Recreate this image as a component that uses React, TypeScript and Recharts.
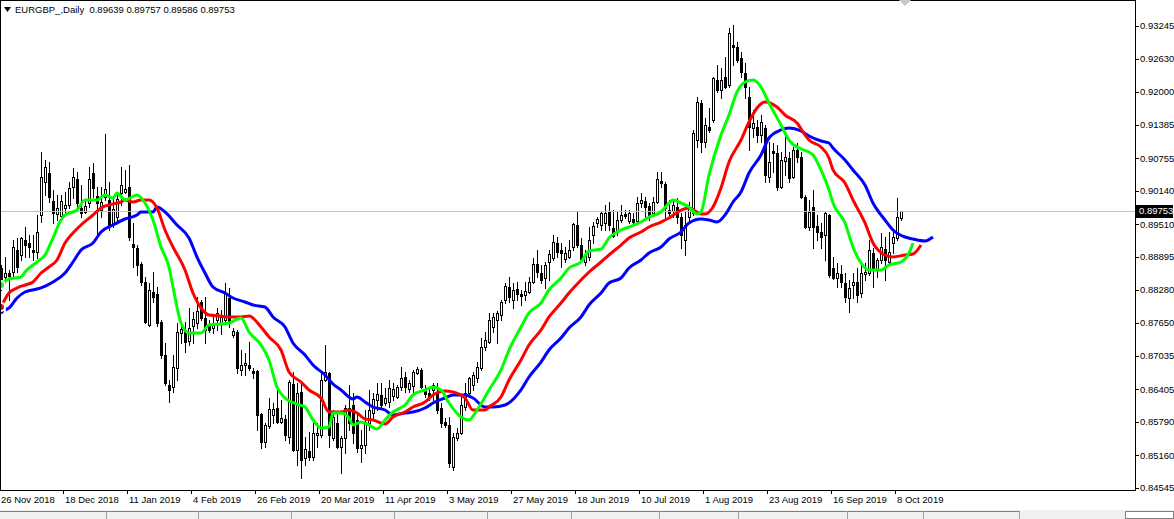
import { Bar, ComposedChart, Line, ReferenceLine, XAxis, YAxis } from 'recharts';

const symbolTitle = 'EURGBP_,Daily';
const lastOpen = 0.89639;
const lastHigh = 0.89757;
const lastLow = 0.89586;
const lastClose = 0.89753;

const dateBars = [0, 16, 32, 48, 64, 80, 96, 112, 128, 144, 160, 176, 192, 208, 224];
const dateLabels = [
  '26 Nov 2018', '18 Dec 2018', '11 Jan 2019', '4 Feb 2019', '26 Feb 2019', '20 Mar 2019', '11 Apr 2019',
  '3 May 2019', '27 May 2019', '18 Jun 2019', '10 Jul 2019', '1 Aug 2019', '23 Aug 2019', '16 Sep 2019', '8 Oct 2019',
];
const priceTicks = [
  0.93245, 0.9263, 0.92, 0.91385, 0.90755, 0.9014, 0.8951, 0.88895, 0.8828, 0.8765, 0.87035, 0.86405, 0.8579, 0.8516, 0.84545,
];

const opens = [
  0.88688, 0.88519, 0.88594, 0.88613, 0.89027, 0.88933, 0.89215, 0.89159, 0.89027, 0.88989,
  0.89686, 0.90308, 0.90477, 0.8995, 0.89705, 0.89667, 0.89818, 0.89874, 0.90213, 0.90364,
  0.89818, 0.89743, 0.89912, 0.90477, 0.90044, 0.8978, 0.90025, 0.89969, 0.89536, 0.89649,
  0.901, 0.90119, 0.90213, 0.8914, 0.89065, 0.88764, 0.88425, 0.87615, 0.88236, 0.88199,
  0.87671, 0.8705, 0.86485, 0.86447, 0.86805, 0.87464, 0.87521, 0.87314, 0.87596, 0.87653,
  0.88048, 0.87747, 0.87615, 0.87558, 0.87709, 0.87653, 0.87709, 0.88123, 0.87427, 0.87483,
  0.86768, 0.86862, 0.86862, 0.86749, 0.86749, 0.85939, 0.85412, 0.85713, 0.8592, 0.86052,
  0.85788, 0.85845, 0.85506, 0.86504, 0.85261, 0.86353, 0.85111, 0.85242, 0.85129, 0.85544,
  0.85544, 0.86579, 0.86711, 0.85487, 0.8577, 0.85318, 0.85487, 0.86052, 0.86108, 0.85826,
  0.85299, 0.85355, 0.8577, 0.85958, 0.86203, 0.86297, 0.86146, 0.86165, 0.86278, 0.86259,
  0.86447, 0.86636, 0.8641, 0.86466, 0.86711, 0.86768, 0.86391, 0.86334, 0.86391, 0.86353,
  0.86052, 0.85788, 0.85732, 0.84941, 0.85487, 0.85581, 0.86071, 0.86334, 0.86485, 0.86617,
  0.86805, 0.87201, 0.87295, 0.87577, 0.87709, 0.87803, 0.88086, 0.8833, 0.88086, 0.88293,
  0.88199, 0.8818, 0.88236, 0.88425, 0.88764, 0.88594, 0.885, 0.88801, 0.88877, 0.89159,
  0.89027, 0.88858, 0.88895, 0.89084, 0.89498, 0.89121, 0.88801, 0.88895, 0.8931, 0.89536,
  0.89498, 0.89536, 0.89743, 0.89441, 0.89366, 0.89592, 0.89705, 0.89573, 0.89611, 0.89573,
  0.89912, 0.8995, 0.89856, 0.89724, 0.89931, 0.90326, 0.9027, 0.8978, 0.89762, 0.89837,
  0.89649, 0.89215, 0.89649, 0.89724, 0.91098, 0.91795, 0.91061, 0.91343, 0.91475, 0.92228,
  0.9204, 0.92285, 0.92134, 0.92887, 0.9285, 0.92642, 0.9236, 0.91908, 0.91324, 0.91343,
  0.91193, 0.91324, 0.90402, 0.90891, 0.90854, 0.90213, 0.90703, 0.9076, 0.90402, 0.9091,
  0.90778, 0.90025, 0.8946, 0.89837, 0.89479, 0.89366, 0.8931, 0.89686, 0.88688, 0.885,
  0.88575, 0.88406, 0.88123, 0.88368, 0.88425, 0.88217, 0.88575, 0.88594, 0.88971, 0.88651,
  0.88839, 0.89046, 0.88801, 0.89159, 0.89253, 0.89639,
];
const highs = [
  0.88745, 0.88895, 0.88651, 0.89215, 0.89253, 0.89272, 0.8946, 0.8931, 0.8931, 0.89686,
  0.90872, 0.90722, 0.90684, 0.90157, 0.90063, 0.90063, 0.90119, 0.90308, 0.90571, 0.90496,
  0.90251, 0.89969, 0.9059, 0.90665, 0.90213, 0.90213, 0.91211, 0.90308, 0.90006, 0.901,
  0.9059, 0.90534, 0.90628, 0.89536, 0.89121, 0.88801, 0.88519, 0.88406, 0.88613, 0.8833,
  0.87709, 0.87276, 0.86579, 0.8705, 0.87653, 0.87653, 0.87671, 0.87935, 0.8786, 0.88142,
  0.88086, 0.88142, 0.87709, 0.87803, 0.87935, 0.87897, 0.88406, 0.88312, 0.87558, 0.87521,
  0.87144, 0.87088, 0.87295, 0.86805, 0.86768, 0.85958, 0.8577, 0.8624, 0.86146, 0.86391,
  0.86203, 0.8592, 0.86579, 0.8673, 0.86523, 0.86523, 0.85506, 0.856, 0.8577, 0.8577,
  0.86711, 0.87238, 0.8673, 0.86014, 0.85977, 0.85525, 0.86108, 0.86485, 0.86334, 0.85958,
  0.85638, 0.86014, 0.86391, 0.86334, 0.86523, 0.86523, 0.86429, 0.86579, 0.86523, 0.86485,
  0.86824, 0.8673, 0.86579, 0.86768, 0.86824, 0.86805, 0.86485, 0.86447, 0.86523, 0.86523,
  0.86146, 0.85864, 0.85883, 0.85581, 0.85675, 0.86297, 0.86523, 0.86636, 0.8673, 0.86918,
  0.8737, 0.87483, 0.87841, 0.87841, 0.87879, 0.88086, 0.88406, 0.88519, 0.88406, 0.88425,
  0.88274, 0.88425, 0.88519, 0.88877, 0.89027, 0.88745, 0.88801, 0.89027, 0.8931, 0.89272,
  0.89159, 0.89084, 0.89215, 0.89536, 0.89743, 0.89253, 0.89027, 0.8946, 0.89554, 0.89649,
  0.89743, 0.89874, 0.89931, 0.8978, 0.89743, 0.89874, 0.8978, 0.8978, 0.89724, 0.90025,
  0.901, 0.90025, 0.89912, 0.90025, 0.90496, 0.90496, 0.90308, 0.89969, 0.89969, 0.90006,
  0.89724, 0.89743, 0.89931, 0.91287, 0.91908, 0.91852, 0.91513, 0.91701, 0.92285, 0.92511,
  0.92454, 0.92661, 0.93207, 0.93264, 0.92944, 0.92755, 0.92548, 0.92096, 0.91663, 0.91475,
  0.91569, 0.91381, 0.91061, 0.91042, 0.91004, 0.90872, 0.91193, 0.90872, 0.90967, 0.91042,
  0.90872, 0.90063, 0.89969, 0.90157, 0.89686, 0.89536, 0.89743, 0.89705, 0.88895, 0.88782,
  0.88745, 0.88594, 0.88462, 0.88594, 0.88688, 0.88782, 0.88782, 0.89215, 0.89065, 0.88877,
  0.89347, 0.89272, 0.89366, 0.89404, 0.90006, 0.89757,
];
const lows = [
  0.88274, 0.88406, 0.88086, 0.88519, 0.88613, 0.88839, 0.88895, 0.88895, 0.88839, 0.88877,
  0.89554, 0.90063, 0.89931, 0.89536, 0.89592, 0.89592, 0.89724, 0.89818, 0.90006, 0.89837,
  0.89649, 0.89724, 0.89837, 0.90025, 0.89253, 0.89649, 0.89969, 0.89404, 0.8946, 0.89592,
  0.89874, 0.901, 0.89215, 0.88707, 0.88556, 0.88368, 0.87653, 0.87596, 0.88048, 0.87596,
  0.86994, 0.86485, 0.86165, 0.86353, 0.86579, 0.87276, 0.87106, 0.87238, 0.87276, 0.87558,
  0.87709, 0.87276, 0.87483, 0.87464, 0.87521, 0.87445, 0.87653, 0.87577, 0.87389, 0.86711,
  0.86673, 0.86673, 0.86768, 0.86617, 0.85638, 0.85299, 0.85318, 0.85675, 0.8577, 0.8577,
  0.8577, 0.85449, 0.85393, 0.85242, 0.84979, 0.84734, 0.84979, 0.85073, 0.85073, 0.85318,
  0.85506, 0.8656, 0.85318, 0.85449, 0.85299, 0.84828, 0.85205, 0.85638, 0.85393, 0.85223,
  0.85035, 0.85205, 0.85638, 0.85864, 0.86014, 0.86052, 0.86108, 0.86071, 0.86203, 0.8624,
  0.86391, 0.86353, 0.86353, 0.86353, 0.86692, 0.86429, 0.86259, 0.86203, 0.86203, 0.85958,
  0.85694, 0.85694, 0.84941, 0.84885, 0.85449, 0.85562, 0.86014, 0.86259, 0.86391, 0.86542,
  0.86768, 0.87144, 0.87276, 0.87483, 0.87276, 0.87709, 0.88029, 0.88048, 0.87935, 0.88086,
  0.87991, 0.88086, 0.88217, 0.88406, 0.88519, 0.88406, 0.88312, 0.88462, 0.88839, 0.88895,
  0.88707, 0.88801, 0.88877, 0.89027, 0.89084, 0.88801, 0.88745, 0.88839, 0.89159, 0.8946,
  0.89404, 0.89404, 0.89404, 0.89272, 0.8931, 0.89554, 0.8963, 0.89536, 0.89536, 0.89554,
  0.89837, 0.89592, 0.89592, 0.89686, 0.89912, 0.90213, 0.89649, 0.89649, 0.89649, 0.89536,
  0.89065, 0.88933, 0.89554, 0.89686, 0.90967, 0.90872, 0.90967, 0.91249, 0.91437, 0.92002,
  0.91889, 0.92078, 0.92096, 0.92511, 0.92567, 0.92285, 0.91889, 0.9091, 0.91155, 0.91061,
  0.91061, 0.90308, 0.90308, 0.90496, 0.90157, 0.90195, 0.90439, 0.90308, 0.90383, 0.90684,
  0.90006, 0.89441, 0.89404, 0.89065, 0.89215, 0.89065, 0.88839, 0.88519, 0.88481, 0.8833,
  0.8833, 0.88048, 0.8786, 0.88123, 0.88048, 0.88142, 0.88462, 0.88556, 0.8833, 0.88519,
  0.88782, 0.88462, 0.88782, 0.88971, 0.89215, 0.89586,
];
const closes = [
  0.8833, 0.88594, 0.88538, 0.89084, 0.88707, 0.89253, 0.89121, 0.89084, 0.88989, 0.89366,
  0.90402, 0.9059, 0.90025, 0.89724, 0.89818, 0.8995, 0.89874, 0.90195, 0.90402, 0.89912,
  0.89724, 0.89856, 0.90364, 0.90195, 0.89912, 0.89931, 0.90176, 0.89498, 0.89799, 0.89987,
  0.90251, 0.90176, 0.89272, 0.89084, 0.88745, 0.88425, 0.87671, 0.88274, 0.88142, 0.87653,
  0.8705, 0.86523, 0.86391, 0.86824, 0.87483, 0.8754, 0.87295, 0.87558, 0.87728, 0.87879,
  0.87747, 0.87521, 0.87521, 0.87615, 0.87841, 0.87766, 0.88217, 0.87671, 0.87502, 0.86805,
  0.86862, 0.86899, 0.86805, 0.86711, 0.8592, 0.85412, 0.85732, 0.86033, 0.86033, 0.85788,
  0.85864, 0.85544, 0.86542, 0.85261, 0.86334, 0.85073, 0.8528, 0.85129, 0.85581, 0.85581,
  0.86579, 0.8673, 0.85544, 0.85883, 0.85318, 0.85487, 0.86052, 0.8577, 0.85581, 0.85299,
  0.85355, 0.85788, 0.86014, 0.86221, 0.86316, 0.86108, 0.8624, 0.86429, 0.8641, 0.86447,
  0.86617, 0.86447, 0.86523, 0.8673, 0.86786, 0.86447, 0.86316, 0.86259, 0.86485, 0.86014,
  0.8577, 0.85732, 0.85016, 0.85506, 0.85581, 0.86108, 0.86334, 0.86617, 0.86673, 0.86824,
  0.87201, 0.87332, 0.87709, 0.87766, 0.87841, 0.88048, 0.88349, 0.88142, 0.88274, 0.88199,
  0.88161, 0.88255, 0.88425, 0.88764, 0.88613, 0.88462, 0.88745, 0.88952, 0.89178, 0.88989,
  0.88971, 0.88971, 0.89027, 0.89517, 0.89121, 0.88858, 0.88933, 0.89215, 0.89479, 0.89611,
  0.89724, 0.89724, 0.89498, 0.89291, 0.89592, 0.89686, 0.89667, 0.89724, 0.89554, 0.89912,
  0.89969, 0.89837, 0.89649, 0.89931, 0.90364, 0.90289, 0.89818, 0.89724, 0.89874, 0.89649,
  0.8931, 0.89498, 0.89818, 0.9123, 0.91814, 0.91061, 0.91381, 0.91287, 0.92266, 0.9204,
  0.92228, 0.92096, 0.93113, 0.9285, 0.92605, 0.92379, 0.92096, 0.91343, 0.91419, 0.91193,
  0.91437, 0.90439, 0.90684, 0.90854, 0.90213, 0.90722, 0.90778, 0.90383, 0.9091, 0.90778,
  0.90025, 0.8946, 0.89743, 0.8946, 0.89366, 0.89272, 0.89724, 0.88556, 0.885, 0.88594,
  0.88425, 0.88142, 0.88312, 0.88425, 0.8818, 0.88594, 0.88613, 0.89027, 0.88651, 0.88839,
  0.89084, 0.88839, 0.88989, 0.89272, 0.89649, 0.89753,
];

// Alligator lines (bar index, price)
const jawBars = [0, 2, 4, 6, 10, 13, 16, 18, 20, 23, 25, 28, 31, 34, 35, 38, 39, 41, 44, 47, 49, 51, 53, 56, 58, 61, 63, 66, 68, 71, 73, 76, 78, 81, 83, 85, 88, 89, 91, 93, 96, 98, 101, 103, 106, 108, 111, 113, 116, 118, 121, 123, 126, 130, 132, 135, 137, 140, 142, 145, 147, 150, 152, 155, 157, 160, 162, 165, 167, 170, 172, 175, 177, 179, 181, 183, 185, 187, 190, 192, 195, 197, 200, 202, 205, 207, 208, 211, 213, 216, 218, 221, 223, 226, 228, 231, 233];
const jawValues = [0.87879, 0.87935, 0.88123, 0.88236, 0.88312, 0.88425, 0.88594, 0.88801, 0.89027, 0.89159, 0.89366, 0.89498, 0.89611, 0.89686, 0.89743, 0.89743, 0.89837, 0.89743, 0.89498, 0.89253, 0.88895, 0.88594, 0.8833, 0.88217, 0.88123, 0.88048, 0.87991, 0.87954, 0.87766, 0.87577, 0.87276, 0.8705, 0.86862, 0.86673, 0.86504, 0.86391, 0.86221, 0.86259, 0.86165, 0.86071, 0.86014, 0.8592, 0.85958, 0.85977, 0.86052, 0.86146, 0.8624, 0.86297, 0.86297, 0.8624, 0.86071, 0.86071, 0.86108, 0.86391, 0.86636, 0.86918, 0.87144, 0.8737, 0.87558, 0.87766, 0.87991, 0.88217, 0.88406, 0.885, 0.88688, 0.88839, 0.88971, 0.89084, 0.89234, 0.89366, 0.89536, 0.89611, 0.89592, 0.89554, 0.89686, 0.89931, 0.90119, 0.90477, 0.90816, 0.91136, 0.91287, 0.91324, 0.91268, 0.91174, 0.9108, 0.91042, 0.90948, 0.90722, 0.90534, 0.90251, 0.89912, 0.89592, 0.89404, 0.89272, 0.89234, 0.89197, 0.89272];

const teethBars = [0, 2, 4, 6, 8, 10, 12, 14, 16, 18, 20, 23, 25, 28, 30, 31, 33, 35, 37, 39, 41, 43, 46, 48, 50, 52, 55, 57, 60, 62, 65, 67, 70, 72, 75, 77, 80, 82, 85, 87, 89, 91, 93, 96, 98, 101, 103, 106, 108, 111, 113, 116, 118, 121, 122, 125, 127, 130, 132, 135, 137, 140, 142, 145, 147, 150, 152, 155, 157, 160, 162, 165, 167, 170, 172, 175, 176, 178, 180, 182, 185, 187, 189, 191, 194, 196, 199, 201, 202, 205, 207, 208, 211, 213, 216, 218, 221, 223, 226, 228, 230];
const teethValues = [0.87954, 0.88217, 0.88312, 0.88368, 0.88425, 0.88594, 0.88707, 0.88839, 0.89159, 0.89347, 0.89498, 0.89686, 0.89818, 0.89893, 0.89931, 0.89969, 0.89931, 0.89969, 0.89969, 0.89818, 0.89404, 0.89084, 0.88651, 0.88217, 0.87935, 0.87803, 0.87784, 0.87766, 0.87766, 0.87784, 0.87577, 0.87389, 0.87144, 0.8673, 0.86542, 0.86391, 0.8624, 0.85977, 0.85977, 0.86014, 0.85958, 0.85845, 0.85826, 0.85751, 0.85883, 0.85977, 0.86071, 0.86165, 0.86297, 0.86372, 0.86353, 0.8624, 0.86014, 0.86014, 0.86071, 0.86259, 0.86579, 0.86956, 0.87238, 0.87521, 0.87766, 0.88029, 0.88217, 0.88462, 0.88613, 0.88801, 0.88933, 0.89121, 0.89253, 0.89366, 0.8946, 0.89554, 0.8963, 0.8978, 0.89818, 0.89705, 0.89705, 0.89837, 0.90195, 0.90684, 0.91098, 0.91437, 0.91701, 0.91814, 0.9172, 0.91569, 0.91419, 0.91193, 0.91098, 0.90967, 0.9076, 0.90534, 0.90289, 0.89969, 0.89536, 0.89159, 0.88933, 0.88895, 0.88933, 0.88952, 0.89121];

const lipsBars = [0, 2, 5, 6, 9, 11, 13, 15, 16, 19, 21, 24, 26, 28, 29, 31, 34, 36, 38, 40, 42, 43, 45, 47, 50, 52, 55, 57, 60, 62, 65, 67, 69, 71, 74, 76, 78, 80, 82, 83, 85, 87, 88, 90, 92, 94, 96, 98, 101, 103, 106, 108, 110, 112, 115, 117, 119, 121, 122, 125, 127, 130, 132, 135, 137, 140, 142, 145, 147, 150, 152, 155, 157, 160, 162, 165, 167, 168, 170, 172, 174, 175, 177, 180, 182, 184, 186, 188, 190, 192, 195, 197, 200, 202, 203, 205, 207, 208, 211, 213, 215, 217, 220, 222, 225, 227, 228];
const lipsValues = [0.88368, 0.88481, 0.88519, 0.88613, 0.88801, 0.88933, 0.89253, 0.89592, 0.89686, 0.8978, 0.89969, 0.89969, 0.90063, 0.90006, 0.901, 0.89969, 0.90063, 0.89912, 0.89592, 0.89084, 0.88707, 0.8833, 0.87653, 0.87464, 0.87464, 0.87615, 0.87634, 0.87653, 0.87747, 0.87483, 0.87238, 0.86956, 0.86447, 0.8624, 0.86127, 0.86071, 0.85826, 0.85675, 0.85694, 0.85958, 0.85958, 0.85864, 0.85732, 0.85788, 0.85732, 0.85657, 0.85826, 0.85977, 0.86108, 0.86297, 0.86391, 0.86447, 0.86391, 0.86146, 0.85883, 0.85826, 0.86014, 0.86259, 0.86391, 0.86768, 0.87144, 0.87577, 0.87841, 0.88029, 0.88274, 0.885, 0.88688, 0.88801, 0.89008, 0.89046, 0.89253, 0.89404, 0.8946, 0.89554, 0.89649, 0.89743, 0.89912, 0.89969, 0.89912, 0.89837, 0.89705, 0.89743, 0.90439, 0.91193, 0.91569, 0.92002, 0.92191, 0.92228, 0.92096, 0.91795, 0.91381, 0.91098, 0.90929, 0.90872, 0.90816, 0.90534, 0.90157, 0.89912, 0.89536, 0.89084, 0.88782, 0.88651, 0.88651, 0.88745, 0.88801, 0.88971, 0.89159];

type Row = {
  i: number;
  o?: number; h?: number; l?: number; c?: number;
  range?: [number, number] | null;
  jaw?: number | null; teeth?: number | null; lips?: number | null;
};

const rows: Row[] = Array.from({ length: 234 }, (_, i) =>
  i < opens.length
    ? { i, o: opens[i], h: highs[i], l: lows[i], c: closes[i], range: [lows[i], highs[i]] as [number, number] }
    : { i, range: null }
);
jawBars.forEach((b, k) => { rows[b].jaw = jawValues[k]; });
teethBars.forEach((b, k) => { rows[b].teeth = teethValues[k]; });
lipsBars.forEach((b, k) => { rows[b].lips = lipsValues[k]; });

const PRICE_TOP = 0.937346;
const PRICE_BOTTOM = 0.845079;
const SMALL_FONT = 9.5;

function Candle(props: any) {
  const { x, y, width, height, payload } = props;
  if (!payload || payload.o == null) return null;
  const { o, h, l, c } = payload;
  const top = Math.min(y, y + height);
  const hh = Math.abs(height);
  const py = (v: number) => (h === l ? top : top + ((h - v) / (h - l)) * hh);
  const left = Math.round(x + width / 2) - 1;
  const yHi = Math.round(py(h));
  const yLo = Math.round(py(l));
  const bTop = Math.round(py(Math.max(o, c)));
  const bBot = Math.round(py(Math.min(o, c)));
  const bull = c >= o;
  return (
    <g shapeRendering="crispEdges">
      <line x1={left + 1.5} x2={left + 1.5} y1={yHi} y2={yLo + 1} stroke="#000" />
      {bBot - bTop < 2 ? (
        <rect x={left} y={bTop} width={3} height={Math.max(1, bBot - bTop)} fill="#000" />
      ) : bull ? (
        <rect x={left + 0.5} y={bTop + 0.5} width={2} height={bBot - bTop} fill="#fff" stroke="#000" />
      ) : (
        <rect x={left} y={bTop} width={3} height={bBot - bTop + 1} fill="#000" />
      )}
    </g>
  );
}

function DateTick(props: any) {
  const { x, y, payload } = props;
  const k = dateBars.indexOf(payload.value);
  return (
    <g>
      <line x1={x - 1.5} x2={x - 1.5} y1={y} y2={y + 4} stroke="#000" shapeRendering="crispEdges" />
      <text x={x} y={y + 13} fontSize={SMALL_FONT} fill="#000">{dateLabels[k]}</text>
    </g>
  );
}

function PriceTick(props: any) {
  const { x, y, payload } = props;
  const yy = Math.round(y) + 0.5;
  return (
    <g>
      <line x1={x} x2={x + 3} y1={yy} y2={yy} stroke="#000" shapeRendering="crispEdges" />
      <text x={x + 4} y={y} dy="0.35em" fontSize={SMALL_FONT} fill="#000">{Number(payload.value).toFixed(5)}</text>
    </g>
  );
}

function PriceTag(props: any) {
  const vb = props.viewBox || {};
  const right = (vb.x ?? 0) + (vb.width ?? 0);
  const yy = Math.round(vb.y ?? 0);
  return (
    <g>
      <rect x={right} y={yy - 6} width={37} height={13} fill="#000" shapeRendering="crispEdges" />
      <text x={right + 3} y={yy} dy="0.35em" fontSize={SMALL_FONT} fill="#fff">{lastClose.toFixed(5)}</text>
    </g>
  );
}

const tabSeparators = [106, 198, 291, 394, 487, 571, 659, 738, 847, 923, 1019];

export default function App() {
  return (
    <div
      style={{
        position: 'absolute', left: 0, top: 0, width: 1174, height: 519, background: '#fff', overflow: 'hidden',
        fontFamily: '"Liberation Sans", Arial, sans-serif',
      }}
    >
      <ComposedChart width={1174} height={510} data={rows} margin={{ top: 0, right: 0, bottom: 0, left: 0 }}>
        <XAxis
          type="number" dataKey="i" domain={[-0.25, 283.75]} allowDataOverflow ticks={dateBars} interval={0}
          height={20} axisLine={false} tickLine={false} tickSize={0} tickMargin={0} tick={<DateTick />}
        />
        <YAxis
          orientation="right" type="number" domain={[PRICE_BOTTOM, PRICE_TOP]} allowDataOverflow ticks={priceTicks}
          interval={0} width={38} axisLine={false} tickLine={false} tickSize={0} tickMargin={0} tick={<PriceTick />}
        />
        <ReferenceLine y={lastClose} stroke="#c0c0c0" strokeWidth={1} label={<PriceTag />} />
        <Bar dataKey="range" barSize={3} shape={(p: any) => <Candle {...p} />} isAnimationActive={false} />
        <Line dataKey="jaw" type="monotone" stroke="#0000ff" strokeWidth={3} dot={false} connectNulls isAnimationActive={false} />
        <Line dataKey="teeth" type="monotone" stroke="#ff0000" strokeWidth={3} dot={false} connectNulls isAnimationActive={false} />
        <Line dataKey="lips" type="monotone" stroke="#00ff00" strokeWidth={3} dot={false} connectNulls isAnimationActive={false} />
      </ComposedChart>

      {/* chart frame */}
      <div
        style={{
          position: 'absolute', left: 0, top: 0, width: 1136, height: 491, boxSizing: 'border-box',
          border: '1px solid #000', pointerEvents: 'none',
        }}
      />
      {/* header */}
      <div style={{ position: 'absolute', left: 4, top: 4, display: 'flex', alignItems: 'center', fontSize: SMALL_FONT, color: '#000', whiteSpace: 'pre' }}>
        <svg width={8} height={6} style={{ marginRight: 3 }}>
          <polygon points="0,0 7,0 3.5,5" fill="#000" />
        </svg>
        <span>{`${symbolTitle}  ${lastOpen.toFixed(5)} ${lastHigh.toFixed(5)} ${lastLow.toFixed(5)} ${lastClose.toFixed(5)}`}</span>
      </div>
      {/* shift marker */}
      <svg style={{ position: 'absolute', left: 899, top: 0 }} width={13} height={7}>
        <polygon points="0,0 12,0 6,6" fill="#c8c8c8" />
      </svg>
      {/* tab bar */}
      <div style={{ position: 'absolute', left: 0, top: 510, width: 1174, height: 9, background: '#f0f0f0' }}>
        <div style={{ position: 'absolute', left: 0, top: 1, width: 1020, height: 1, background: '#808080' }} />
        {tabSeparators.map((s) => (
          <div key={s} style={{ position: 'absolute', left: s, top: 1, width: 1, height: 8, background: '#a0a0a0' }} />
        ))}
        <div style={{ position: 'absolute', left: 1125, top: 1, width: 49, height: 8, border: '1px solid #808080', background: '#fff', boxSizing: 'border-box' }} />
      </div>
    </div>
  );
}
